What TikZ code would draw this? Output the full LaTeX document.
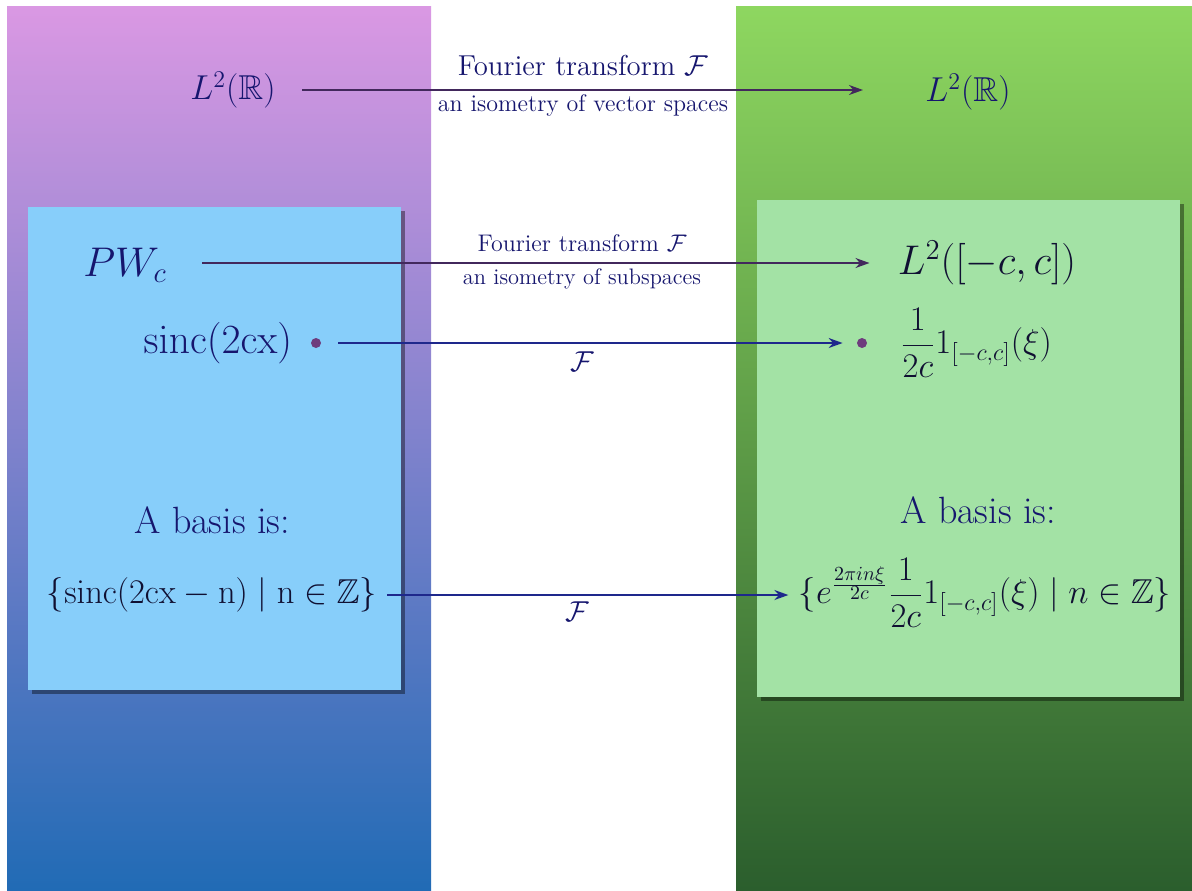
\documentclass[tikz,border=0pt]{standalone}
\usepackage{amsmath,amssymb}
\usetikzlibrary{arrows.meta,positioning,shadows}
\definecolor{inkblue}{RGB}{22,22,110}
\definecolor{inkdark}{RGB}{16,16,50}
\definecolor{arrowpurple}{RGB}{66,40,92}
\definecolor{arrowblue}{RGB}{30,40,140}
\definecolor{dotpurple}{RGB}{110,60,125}
\definecolor{lefttop}{RGB}{218,152,227}
\definecolor{leftbot}{RGB}{33,107,181}
\definecolor{righttop}{RGB}{142,215,96}
\definecolor{rightbot}{RGB}{43,94,45}
\definecolor{skybox}{RGB}{135,206,250}
\definecolor{mintbox}{RGB}{163,226,165}
\newcommand{\fsz}[1]{\fontsize{#1}{#1}\selectfont}
\tikzset{
    mytext/.style={text=inkblue,inner sep=1pt},
    mymath/.style={text=inkdark,inner sep=1pt},
    myarrow/.style={-{Stealth[length=7pt,width=5pt]},line width=0.8pt},
    mydot/.style={circle,fill=dotpurple,inner sep=0pt,minimum size=5pt},
    mybox/.style={drop shadow={shadow xshift=2pt,shadow yshift=-2pt,fill=black,opacity=.4}}
}

\begin{document}
\begin{tikzpicture}[x=0.5pt,y=-0.5pt]
  \useasboundingbox (0,0) rectangle (1192,890);

  %---------------- background panels ----------------
            \shade[top color=lefttop,bottom color=leftbot] (7,6) rectangle (431,890);
            \shade[top color=righttop,bottom color=rightbot] (736,6) rectangle (1192,890);

  %---------------- inner boxes ----------------
            \fill[skybox,mybox] (28,207) rectangle (401,690);
            \fill[mintbox,mybox] (757,200) rectangle (1180,697);

  %---------------- top row ----------------
            \node[mytext,font=\fsz{17.28}] (srcL) at (233,90) {$L^2(\mathbb{R})$};
            \node[mytext,font=\fsz{17.28}] (dstL) at (968,92) {$L^2(\mathbb{R})$};
            \node[mytext,font=\fsz{14.4}] (topF) at (583,65) {Fourier transform $\mathcal{F}$};
            \node[mytext,font=\fsz{12}] (topIso) at (583,105) {an isometry of vector spaces};
            \draw[myarrow,arrowpurple,shorten <=12pt,shorten >=30pt]
                (srcL.east) -- (srcL.east -| dstL.west);

  %---------------- subspaces ----------------
            \node[mytext,font=\fsz{20.74}] (pw) at (125,265) {$PW_c$};
            \node[mymath,font=\fsz{20.74}] (lc) at (987,263) {$L^2([-c,c])$};
            \node[mytext,font=\fsz{12}] (midF) at (582,243) {Fourier transform $\mathcal{F}$};
            \node[mytext,font=\fsz{11.2}] (midIso) at (582,279) {an isometry of subspaces};
            \draw[myarrow,arrowpurple,shorten <=16.5pt,shorten >=13pt]
                (pw.east |- lc.west) -- (lc.west);

  %---------------- single element ----------------
            \node[mytext,font=\fsz{20.74}] (sinc) at (218,343) {$\mathrm{sinc}(2\mathrm{cx})$};
            \node[mydot] (dotL) at (316,343) {};
            \node[mydot] (dotR) at (862,343) {};
            \node[mymath,font=\fsz{17.28}] (ind) at (976,343) {$\dfrac{1}{2c}1_{[-c,c]}(\xi)$};
            \node[mytext,font=\fsz{14.4}] (elF) at (582,362) {$\mathcal{F}$};
            \draw[myarrow,arrowblue,shorten <=8.5pt,shorten >=7pt] (dotL) -- (dotR);

  %---------------- bases ----------------
            \node[mytext,font=\fsz{19}] (basL) at (212,520) {A basis is:};
            \node[mytext,font=\fsz{19}] (basR) at (978,510) {A basis is:};
            \node[mymath,font=\fsz{17.28}] (setL) at (212,595)
                {$\{\mathrm{sinc}(2\mathrm{cx}-\mathrm{n})\mid\mathrm{n}\in\mathbb{Z}\}$};
            \node[mymath,font=\fsz{17.28}] (setR) at (985,593)
                {$\{e^{\frac{2\pi i n\xi}{2c}}\dfrac{1}{2c}1_{[-c,c]}(\xi)\mid n\in\mathbb{Z}\}$};
            \node[mytext,font=\fsz{14.4}] (setF) at (577,612) {$\mathcal{F}$};
            \draw[myarrow,arrowblue,shorten <=4pt,shorten >=4pt]
                (setL.east) -- (setL.east -| setR.west);

\end{tikzpicture}
\end{document}
